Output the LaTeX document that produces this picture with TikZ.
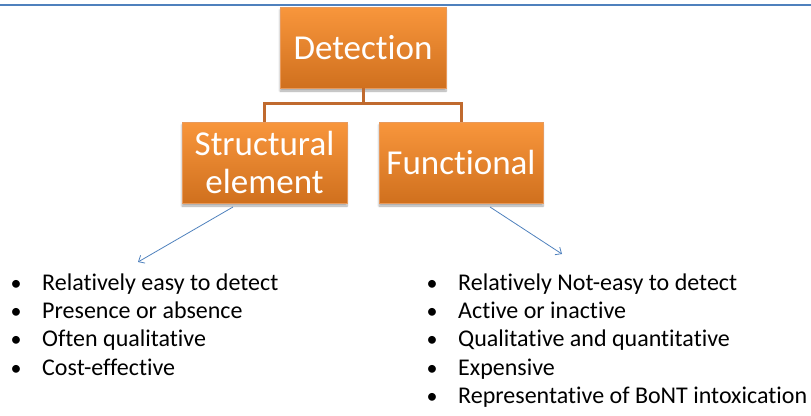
\documentclass[tikz,border=0pt]{standalone}
\usepackage{fontspec}
\setmainfont{Carlito}[Ligatures=NoCommon]
\usetikzlibrary{arrows.meta,shadows.blur}
\definecolor{rulblue}{HTML}{4F81BD}
\definecolor{orgtop}{HTML}{F8963C}
\definecolor{orgbot}{HTML}{D0701E}
\definecolor{orgline}{HTML}{C06A2E}
\definecolor{orglite}{HTML}{E89A5C}
\tikzset{
  obox/.style={rectangle, draw=orglite, line width=0.8pt,
    top color=orgtop, bottom color=orgbot, text=white,
    font=\fontsize{35}{38}\selectfont, align=center, inner sep=0pt,
    blur shadow={shadow xshift=0pt, shadow yshift=-3pt, shadow blur steps=6, shadow opacity=35}},
  elbow/.style={draw=orgline, line width=3pt},
  pointer/.style={draw=rulblue, line width=0.8pt, -{Straight Barb[length=5pt,width=9pt]}},
  item/.style={anchor=base west, inner sep=0pt, font=\fontsize{24}{26}\selectfont},
  dot/.style={anchor=base, inner sep=0pt, font=\fontsize{22}{24}\selectfont}
}
\begin{document}
\begin{tikzpicture}[x=1pt,y=-1pt]
\useasboundingbox (0,0) rectangle (811,415);
% top rule
\draw[rulblue, line width=2pt] (0,5) -- (811,5);
% boxes
\node[obox, minimum width=166pt, minimum height=81pt] (det) at (363,47.5) {Detection};
\node[obox, minimum width=165pt, minimum height=81pt] (str) at (264.5,162.5) {Structural\\element};
\node[obox, minimum width=164pt, minimum height=81pt] (fun) at (461,162.5) {Functional};
% tree connector
\coordinate (mid) at (363,103.5);
\draw[elbow] (det.south) -- (mid) -| (str.north);
\draw[elbow] (mid) -| (fun.north);
% pointers to the lists
\coordinate (la) at (233,207);
\coordinate (lb) at (138,262);
\coordinate (ra) at (490,207);
\coordinate (rb) at (562,254);
\draw[pointer] (la) -- (lb);
\draw[pointer] (ra) -- (rb);
% left list
\foreach \t [count=\i] in {Relatively easy to detect, Presence or absence, Often qualitative, Cost-effective} {
  \node[dot] (lbul\i) at (16,{290+28.4*(\i-1)}) {•};
  \node[item] (ltxt\i) at (42,{290+28.4*(\i-1)}) {\t};
}
% right list
\foreach \t [count=\i] in {Relatively Not-easy to detect, Active or inactive, Qualitative and quantitative, Expensive, Representative of BoNT intoxication} {
  \node[dot] (rbul\i) at (432,{290+28.4*(\i-1)}) {•};
  \node[item] (rtxt\i) at (458,{290+28.4*(\i-1)}) {\t};
}
\end{tikzpicture}
\end{document}
